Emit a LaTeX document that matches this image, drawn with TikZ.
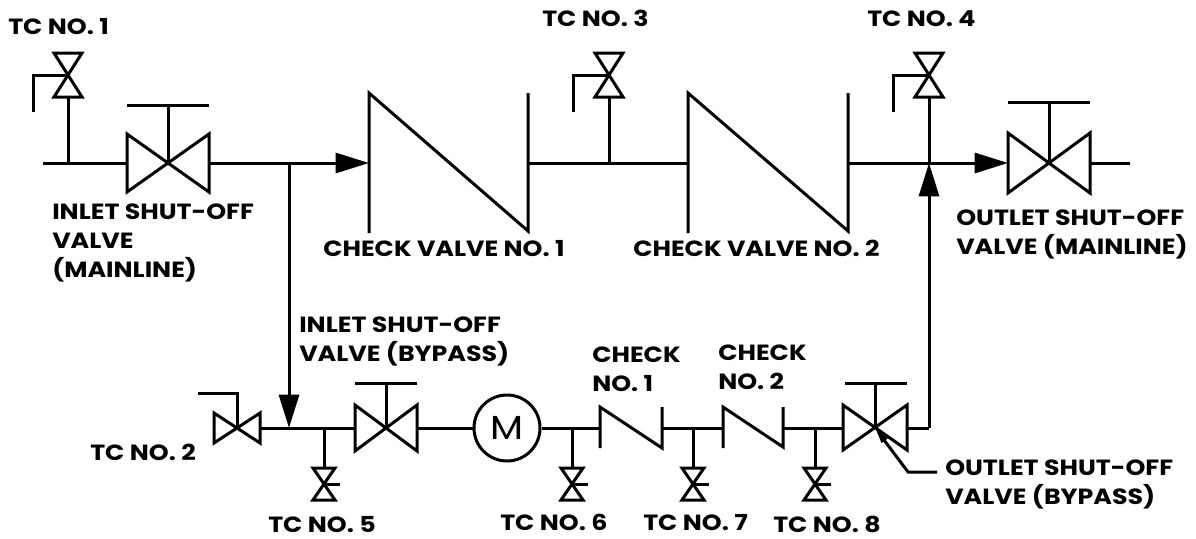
\documentclass[tikz,border=0pt]{standalone}
\usepackage{fontspec}
\setmainfont{Poppins}[FakeStretch=1.15]
\usetikzlibrary{arrows.meta}

\tikzset{
    pipe/.style={line width=2.25pt},
    flow/.style={pipe, -{Triangle[length=25pt, width=15pt]}},
    lbl/.style={anchor=north west, inner sep=0pt, align=left,
      font=\fontsize{16.5}{21.75}\selectfont\bfseries},
}

\begin{document}
\begin{tikzpicture}[x=0.75pt, y=-0.75pt]
    \useasboundingbox (0, 0) rectangle (1196, 539);

    % main line
    \coordinate (inlet) at (43, 163);
    \coordinate (tcA) at (68, 163);
    \coordinate (ivL) at (127, 163);
    \coordinate (ivR) at (209, 163);
    \coordinate (split) at (289, 163);
    \coordinate (cvA) at (369, 163);
    \coordinate (cvAout) at (528, 163);
    \coordinate (tcC) at (609, 163);
    \coordinate (cvB) at (688, 163);
    \coordinate (cvBout) at (848, 163);
    \coordinate (merge) at (929, 163);
    \coordinate (ovL) at (1008, 163);
    \coordinate (ovR) at (1090, 163);
    \coordinate (outlet) at (1130, 163);

    \draw [pipe] (inlet) -- (ivL);
    \draw [pipe] (ivR) -- (split);
    \draw [flow] (split) -- (cvA);
    \draw [pipe] (cvAout) -- (cvB);
    \draw [pipe] (cvBout) -- (merge);
    \draw [flow] (merge) -- (ovL);
    \draw [pipe] (ovR) -- (outlet);

    % inlet shut-off valve (mainline)
    \draw [pipe] (127, 134) -- (209, 192) -- (209, 134) -- (127, 192) -- cycle;
    \draw [pipe] (168, 163) -- (168, 105);
    \draw [pipe] (127, 105) -- (209, 105);
    % outlet shut-off valve (mainline)
    \draw [pipe] (1008, 133) -- (1090, 193) -- (1090, 133) -- (1008, 193) -- cycle;
    \draw [pipe] (1049, 163) -- (1049, 102);
    \draw [pipe] (1008, 102) -- (1090, 102);

    % check valves (mainline)
    \draw [pipe] (369, 233) -- (369, 93) -- (528, 231) -- (528, 93);
    \draw [pipe] (688, 233) -- (688, 93) -- (848, 231) -- (848, 93);

    % test cocks on the mainline
    \foreach \x/\h in {68/33, 609/573, 929/893} {
      \draw [pipe] (\x, 163) -- (\x, 97);
      \draw [pipe] (\x-14, 53) -- (\x+14, 53) -- (\x-14, 97) -- (\x+14, 97) -- cycle;
      \draw [pipe] (\x, 75) -- (\h, 75) -- (\h, 112);
    }

    % bypass line
    \coordinate (tcBv) at (260, 428);
    \coordinate (drop) at (289, 428);
    \coordinate (bvL) at (355, 428);
    \coordinate (bvR) at (417, 428);
    \coordinate (cA) at (600, 428);
    \coordinate (cAout) at (662, 428);
    \coordinate (cB) at (723, 428);
    \coordinate (cBout) at (783, 428);
    \coordinate (obL) at (843, 428);
    \coordinate (obR) at (907, 428);
    \coordinate (rise) at (929, 428);

    \node (meter) at (507, 428) [circle, draw, line width=2.25pt,
      minimum size=66*0.75pt, inner sep=0pt,
      font=\fontsize{25}{25}\selectfont] {M};

    \draw [flow] (split) -- (drop);
    \draw [pipe] (tcBv) -- (bvL);
    \draw [pipe] (bvR) -- (meter);
    \draw [pipe] (meter) -- (cA);
    \draw [pipe] (cAout) -- (cB);
    \draw [pipe] (cBout) -- (obL);
    \draw [pipe] (obR) -- (rise);
    \draw [flow] (rise) -- (merge);

    % TC no. 2
    \draw [pipe] (214, 413) -- (260, 443) -- (260, 413) -- (214, 443) -- cycle;
    \draw [pipe] (237, 428) -- (237, 393) -- (198, 393);

    % inlet shut-off valve (bypass)
    \draw [pipe] (355, 405) -- (417, 451) -- (417, 405) -- (355, 451) -- cycle;
    \draw [pipe] (386, 428) -- (386, 383);
    \draw [pipe] (355, 383) -- (417, 383);

    % check valves (bypass)
    \draw [pipe] (600, 448) -- (600, 407) -- (662, 448) -- (662, 407);
    \draw [pipe] (723, 448) -- (723, 407) -- (783, 447) -- (783, 407);

    % outlet shut-off valve (bypass)
    \draw [pipe] (843, 405) -- (907, 450) -- (907, 405) -- (843, 450) -- cycle;
    \draw [pipe] (875, 428) -- (875, 383);
    \draw [pipe] (845, 383) -- (907, 383);
    \coordinate (lead) at (937, 472);
    \draw [pipe, {Triangle[length=12pt, width=5pt]}-]
      (875, 428) -- (908, 472) -- (lead);

    % test cocks on the bypass
    \foreach \x in {324, 572, 693, 815} {
      \draw [pipe] (\x, 428) -- (\x, 468);
      \draw [pipe] (\x-11, 468) -- (\x+11, 468) -- (\x-11, 500) -- (\x+11, 500) -- cycle;
      \draw [pipe] (\x, 484) -- (\x+16, 484);
    }

    % labels
    \node (tc1) [lbl] at (8, 18) {TC NO. 1};
    \node (tc3) [lbl] at (542, 10) {TC NO. 3};
    \node (tc4) [lbl] at (867, 10) {TC NO. 4};
    \node (isv) [lbl] at (52, 204) {INLET SHUT-OFF\\VALVE\\(MAINLINE)};
    \node (cv1) [lbl] at (323, 240) {CHECK VALVE NO. 1};
    \node (cv2) [lbl] at (633, 240) {CHECK VALVE NO. 2};
    \node (osv) [lbl] at (956, 210) {OUTLET SHUT-OFF\\VALVE (MAINLINE)};
    \node (isb) [lbl] at (299, 317) {INLET SHUT-OFF\\VALVE (BYPASS)};
    \node (ck1) [lbl] at (592, 347) {CHECK\\NO. 1};
    \node (ck2) [lbl] at (718, 345) {CHECK\\NO. 2};
    \node (tc2) [lbl] at (90, 444) {TC NO. 2};
    \node (osb) [lbl] at (945, 460) {OUTLET SHUT-OFF\\VALVE (BYPASS)};
    \node (tc5) [lbl] at (268, 516) {TC NO. 5};
    \node (tc6) [lbl] at (500, 514) {TC NO. 6};
    \node (tc7) [lbl] at (643, 514) {TC NO. 7};
    \node (tc8) [lbl] at (773, 516) {TC NO. 8};
\end{tikzpicture}
\end{document}
